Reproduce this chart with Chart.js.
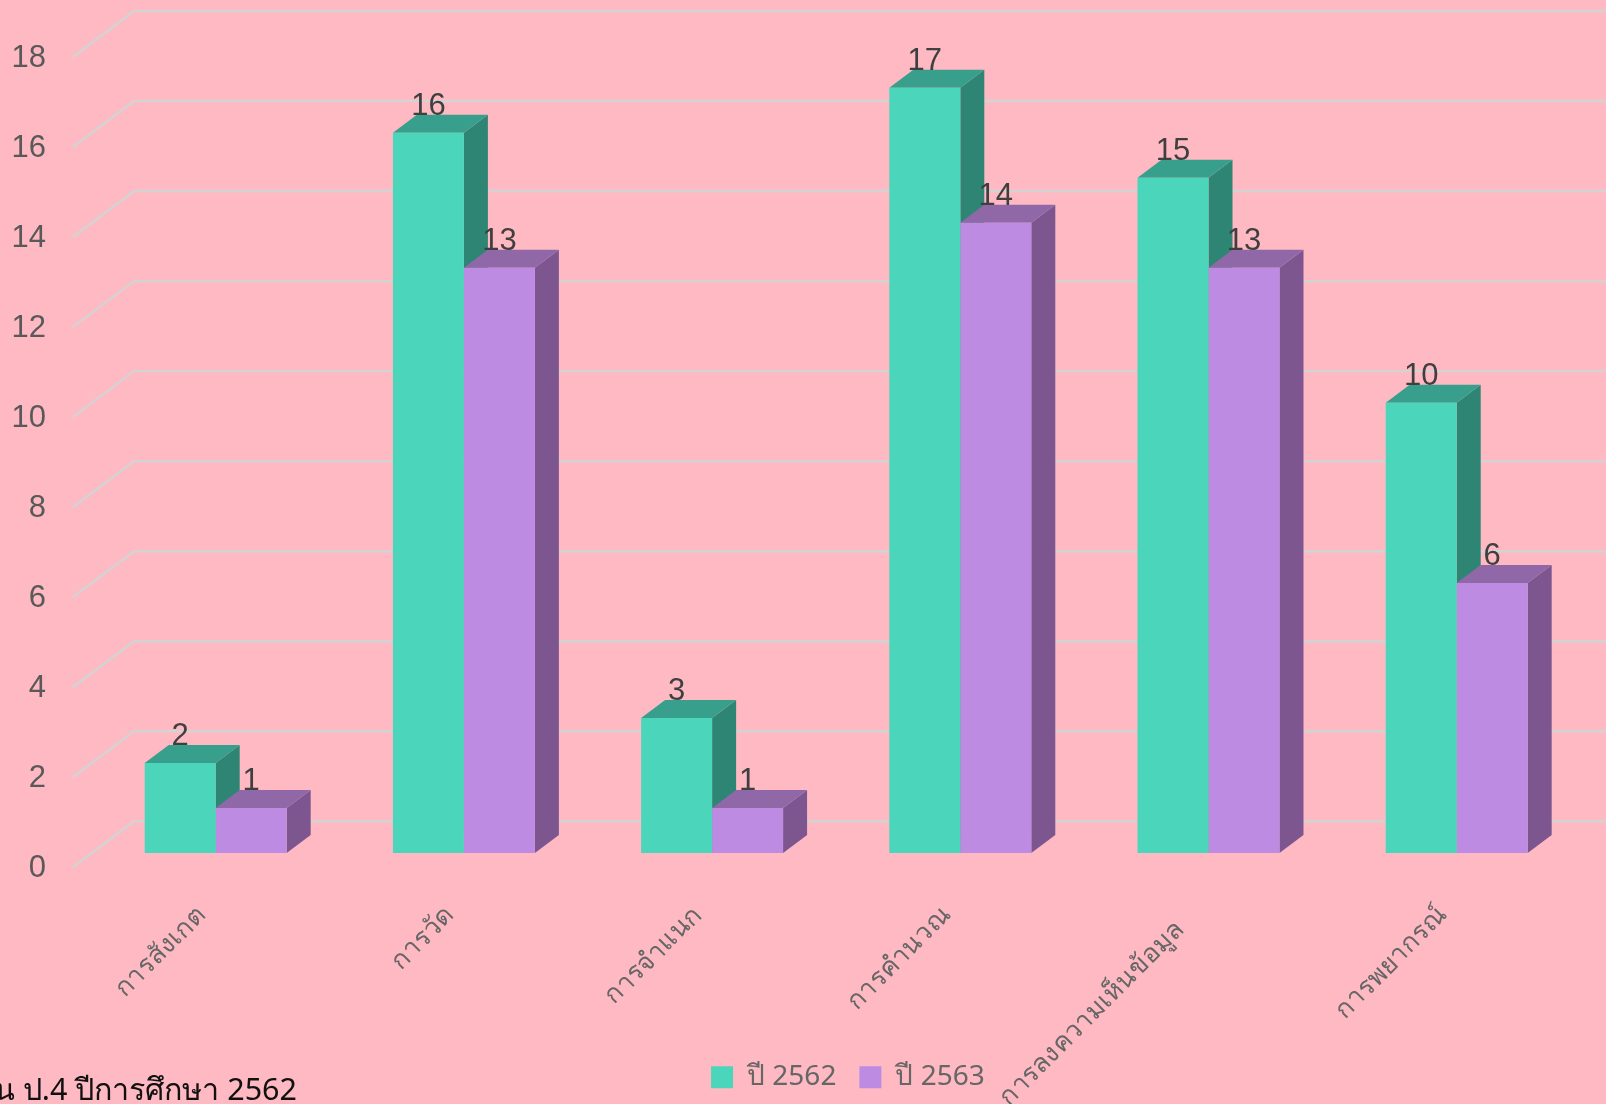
<!DOCTYPE html>
<html lang="th">
<head>
<meta charset="utf-8">
<title>chart</title>
<script src="https://cdn.jsdelivr.net/npm/chart.js@4"></script>
<style>
  html, body { margin: 0; padding: 0; background: #ffb9c3; overflow: hidden; }
  #wrap { position: relative; width: 1606px; height: 1104px; overflow: hidden; }
  #grafica { display: block; }
  #caption {
    position: absolute; right: 1309px; top: 1065px; white-space: nowrap;
    font: 30.5px "Noto Sans", sans-serif; color: #111;
  }
</style>
</head>
<body>
<div id="wrap">
  <canvas id="grafica" width="1606" height="1104"></canvas>
  <div id="caption">น ป.4 ปีการศึกษา 2562</div>
</div>
<script>
const categorias = ['การสังเกต', 'การวัด', 'การจำแนก', 'การคำนวณ', 'การลงความเห็นข้อมูล', 'การพยากรณ์'];
const serie2562 = [2, 16, 3, 17, 15, 10];
const serie2563 = [1, 13, 1, 14, 13, 6];

const colores = {
    verde: { front: '#4bd5bb', side: '#2e8574', top: '#389f8c' },
    morado: { front: '#bd8ce2', side: '#7d5690', top: '#9068a8' },
};

// profundidad de las barras y de la pared de la grilla
const barDepth = { x: 24, y: 18 };
const wall = { left: 72.7, back: 134, front: 14.3, rear: 31.7 };

function drawCaras(ctx, b, c) {
    const left = b.x - b.width / 2;
    const right = b.x + b.width / 2;
    ctx.fillStyle = c.side;
    ctx.beginPath();
    ctx.moveTo(right, b.y);
    ctx.lineTo(right + barDepth.x, b.y - barDepth.y);
    ctx.lineTo(right + barDepth.x, b.base - barDepth.y);
    ctx.lineTo(right, b.base);
    ctx.closePath();
    ctx.fill();
    ctx.fillStyle = c.top;
    ctx.beginPath();
    ctx.moveTo(left, b.y);
    ctx.lineTo(left + barDepth.x, b.y - barDepth.y);
    ctx.lineTo(right + barDepth.x, b.y - barDepth.y);
    ctx.lineTo(right, b.y);
    ctx.closePath();
    ctx.fill();
}

// grilla en L, caras de las barras y valores encima
const grafica3d = {
    id: 'grafica3d',
    afterLayout(chart) {
        // la leyenda se mueve un poco y las etiquetas llegan hasta el borde del canvas
        chart.legend.top -= 2.7;
        chart.legend.bottom -= 2.7;
        chart.legend.left += 57.5;
        chart.legend.right += 57.5;
        chart.scales.x.bottom = chart.height;
    },
    beforeDatasetsDraw(chart) {
        const ctx = chart.ctx;
        const y = chart.scales.y;
        ctx.save();
        ctx.strokeStyle = '#d3d3d3';
        ctx.lineWidth = 2.4;
        y.ticks.forEach(t => {
            const p = y.getPixelForValue(t.value);
            ctx.beginPath();
            ctx.moveTo(wall.left, p + wall.front);
            ctx.lineTo(wall.back, p - wall.rear);
            ctx.lineTo(chart.width, p - wall.rear);
            ctx.stroke();
        });
        // primero 2562 y luego 2563, el frente lo pone Chart.js
        chart.data.datasets.forEach((ds, i) => {
            chart.getDatasetMeta(i).data.forEach(b => drawCaras(ctx, b, ds.caras));
        });
        ctx.restore();
    },
    afterDatasetsDraw(chart) {
        const ctx = chart.ctx;
        ctx.save();
        ctx.font = '31px "Liberation Sans", Arial, sans-serif';
        ctx.fillStyle = '#3f3f3f';
        ctx.textAlign = 'center';
        ctx.textBaseline = 'alphabetic';
        chart.data.datasets.forEach((ds, i) => {
            chart.getDatasetMeta(i).data.forEach((b, j) => {
                ctx.fillText(ds.data[j], b.x, b.y - barDepth.y);
            });
        });
        ctx.restore();
    },
};

new Chart(document.getElementById('grafica'), {
    type: 'bar',
    plugins: [grafica3d],
    data: {
        labels: categorias,
        datasets: [
            { label: 'ปี 2562', data: serie2562, backgroundColor: colores.verde.front, caras: colores.verde },
            { label: 'ปี 2563', data: serie2563, backgroundColor: colores.morado.front, caras: colores.morado },
        ],
    },
    options: {
        responsive: false,
        animation: false,
        devicePixelRatio: 1,
        layout: { padding: { left: 0, right: 25.2, top: 42.7, bottom: 0 } },
        datasets: { bar: { categoryPercentage: 0.572, barPercentage: 1 } },
        scales: {
            x: {
                grid: { display: false },
                border: { display: false },
                afterFit(s) { s.height = 190; },
                ticks: {
                    autoSkip: false,
                    minRotation: 45,
                    maxRotation: 45,
                    padding: 39,
                    labelOffset: -14,
                    color: '#666666',
                    font: { family: '"Noto Sans", sans-serif', size: 26 },
                    callback(v) {
                        // la etiqueta larga queda mas abajo en el original
                        const t = this.getLabelForValue(v);
                        return t.length > 15 ? t + '\u00a0\u00a0\u00a0' : t;
                    },
                },
            },
            y: {
                min: 0,
                max: 18,
                grid: { display: false },
                border: { display: false },
                afterFit(s) {
                    s.width = 91.6;
                    // sin esto el padding de los ticks empuja el area hacia abajo
                    s.paddingTop = 0;
                    s.paddingBottom = 0;
                },
                ticks: {
                    stepSize: 2,
                    padding: 37.6,
                    labelOffset: 15.3,
                    color: '#595959',
                    font: { family: '"Liberation Sans", Arial, sans-serif', size: 31 },
                },
            },
        },
        plugins: {
            tooltip: { enabled: false },
            legend: {
                position: 'bottom',
                labels: {
                    boxWidth: 22,
                    boxHeight: 22,
                    padding: 23,
                    color: '#666666',
                    font: { family: '"Noto Sans", sans-serif', size: 28 },
                },
            },
        },
    },
});
</script>
</body>
</html>
